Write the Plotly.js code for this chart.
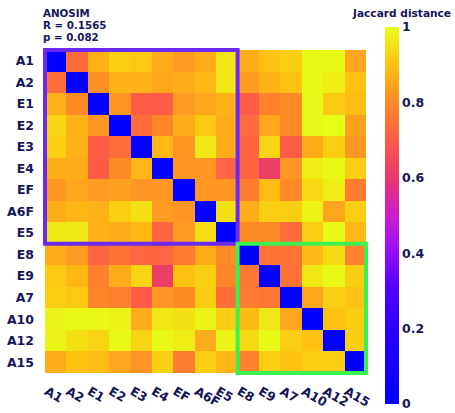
<!DOCTYPE html>
<html>
<head>
<meta charset="utf-8">
<script src="https://cdn.plot.ly/plotly-3.0.1.min.js"></script>
<style>html,body{margin:0;padding:0;background:#fff;}#chart{width:455px;height:413px;}</style>
</head>
<body>
<div id="chart"></div>
<script>
var labels = ["A1","A2","E1","E2","E3","E4","EF","A6F","E5","E8","E9","A7","A10","A12","A15"];
var groupE = ["A1","A2","E1","E2","E3","E4","EF","A6F","E5"];
var groupA = ["E8","E9","A7","A10","A12","A15"];
var distances = [
  [0.00,0.74,0.87,0.92,0.91,0.86,0.83,0.86,0.96,0.86,0.90,0.92,0.99,0.99,0.85],
  [0.74,0.00,0.81,0.87,0.87,0.85,0.86,0.88,0.96,0.83,0.87,0.90,0.99,0.97,0.90],
  [0.87,0.80,0.00,0.82,0.70,0.70,0.83,0.85,0.87,0.70,0.78,0.80,0.99,0.91,0.89],
  [0.93,0.87,0.82,0.00,0.74,0.79,0.86,0.91,0.86,0.73,0.85,0.80,0.99,1.00,0.84],
  [0.92,0.87,0.70,0.74,0.00,0.88,0.82,0.96,0.86,0.72,0.93,0.70,0.86,0.92,0.82],
  [0.86,0.86,0.70,0.80,0.88,0.00,0.82,0.82,0.72,0.72,0.62,0.82,0.97,0.99,0.92],
  [0.82,0.85,0.83,0.84,0.82,0.82,0.00,0.82,0.82,0.77,0.89,0.80,0.94,0.97,0.77],
  [0.86,0.88,0.87,0.92,0.95,0.83,0.82,0.00,0.95,0.86,0.92,0.92,0.98,0.85,0.92],
  [0.96,0.96,0.87,0.86,0.88,0.72,0.83,0.95,0.00,0.80,0.80,0.74,0.92,0.99,0.88],
  [0.86,0.83,0.72,0.75,0.72,0.72,0.77,0.86,0.80,0.00,0.75,0.75,0.89,0.94,0.78],
  [0.91,0.88,0.78,0.86,0.93,0.62,0.90,0.92,0.79,0.76,0.00,0.75,0.96,0.99,0.92],
  [0.92,0.91,0.79,0.78,0.70,0.82,0.80,0.92,0.74,0.77,0.76,0.00,0.85,0.92,0.90],
  [0.98,0.99,0.99,0.98,0.86,0.96,0.95,0.98,0.92,0.89,0.96,0.85,0.00,0.90,0.92],
  [0.98,0.95,0.93,0.99,0.93,0.99,0.97,0.86,0.98,0.94,0.99,0.92,0.90,0.00,0.92],
  [0.86,0.90,0.89,0.85,0.82,0.92,0.77,0.92,0.88,0.78,0.92,0.90,0.92,0.92,0.00]
];
var statLines = ["ANOSIM", "R = 0.1565", "p = 0.082"];
var cbTicks = [0, 0.2, 0.4, 0.6, 0.8, 1];
var cbTickText = ["0", "0.2", "0.4", "0.6", "0.8", "1"];

var navy = "#15165a";
var fnt = "DejaVu Sans, Verdana, sans-serif";

var colorscale = [
  [0.00, "#0000ff"],
  [0.20, "#2a00ff"],
  [0.32, "#5a00ff"],
  [0.42, "#a010f4"],
  [0.50, "#cc1ccc"],
  [0.60, "#e8386e"],
  [0.70, "#ff5c48"],
  [0.80, "#ff8a26"],
  [0.90, "#ffc212"],
  [1.00, "#e6ff18"]
];

function groupRect(group, color) {
  var i0 = labels.indexOf(group[0]);
  var i1 = labels.indexOf(group[group.length - 1]);
  return {
    type: "rect", xref: "x", yref: "y",
    x0: i0 - 0.5, x1: i1 + 0.5, y0: i0 - 0.5, y1: i1 + 0.5,
    line: {color: color, width: 4}, fillcolor: "rgba(0,0,0,0)"
  };
}

var trace = {
  type: "heatmap",
  x: labels, y: labels, z: distances,
  zmin: 0, zmax: 1,
  colorscale: colorscale,
  colorbar: {
    thickness: 14,
    len: 377, lenmode: "pixels",
    x: 1.052, xanchor: "left", xpad: 0,
    y: 0.4878, yanchor: "middle", ypad: 0,
    outlinewidth: 0,
    ticks: "",
    tickvals: cbTicks, ticktext: cbTickText,
    tickfont: {family: fnt, size: 12.5, color: navy, weight: "bold"}
  }
};

var annotations = statLines.map(function (t, k) {
  return {
    xref: "paper", yref: "paper",
    x: -0.005, y: 1 + (43 - 12 * k) / 327,
    xanchor: "left", yanchor: "top",
    showarrow: false, text: t,
    font: {family: fnt, size: 10.3, color: navy, weight: "bold"}
  };
});
annotations.push({
  xref: "paper", yref: "paper",
  x: (453 - 43) / 325, y: 1 + 43 / 327,
  xanchor: "right", yanchor: "top",
  showarrow: false, text: "Jaccard distance",
  font: {family: fnt, size: 10.6, color: navy, weight: "bold"}
});

var layout = {
  width: 455, height: 413,
  margin: {l: 43, r: 87, t: 48, b: 38},
  paper_bgcolor: "#ffffff", plot_bgcolor: "#ffffff",
  xaxis: {
    type: "category", tickangle: 30, showgrid: false, zeroline: false,
    ticks: "", ticklen: 0, ticklabelstandoff: 6, ticklabelshift: -9,
    tickfont: {family: fnt, size: 12.5, color: navy, weight: "bold"}
  },
  yaxis: {
    type: "category", autorange: "reversed", showgrid: false, zeroline: false,
    ticks: "", ticklen: 0, ticklabelstandoff: 8,
    tickfont: {family: fnt, size: 12.5, color: navy, weight: "bold"}
  },
  shapes: [groupRect(groupE, "#6a2af2"), groupRect(groupA, "#3cf052")],
  annotations: annotations
};

Plotly.newPlot("chart", [trace], layout, {displayModeBar: false, staticPlot: true});
</script>
</body>
</html>
